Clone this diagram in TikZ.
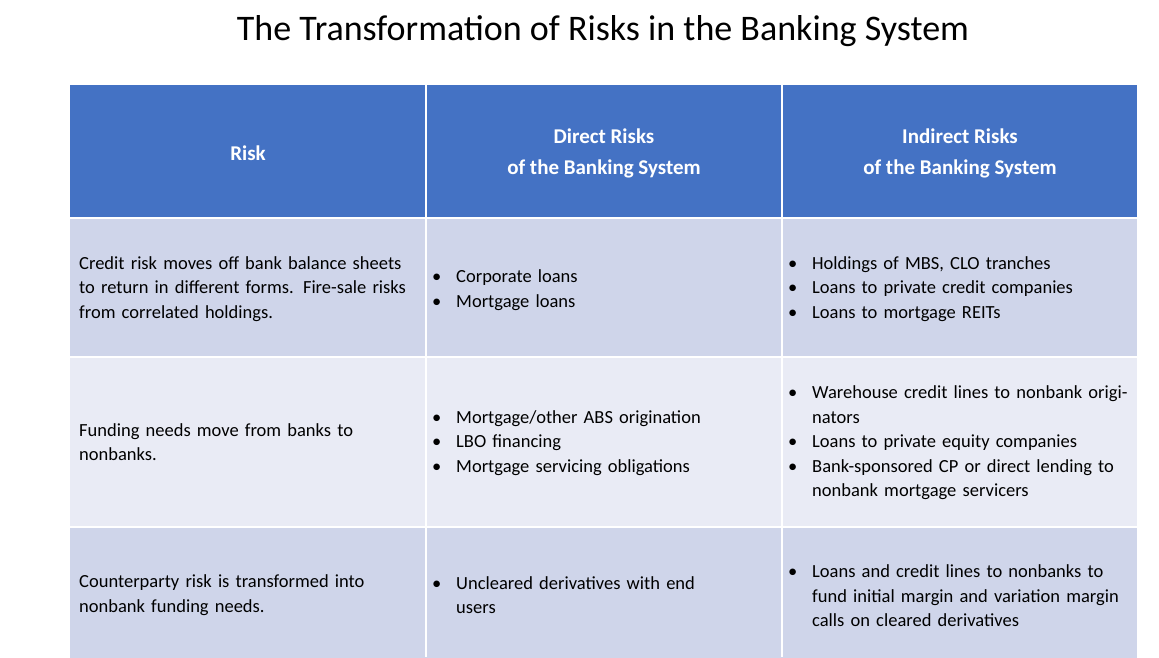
\documentclass[tikz,border=0pt]{standalone}
\usepackage{fontspec}
\setmainfont{Carlito}
\definecolor{hdr}{HTML}{4472C4}
\definecolor{rowa}{HTML}{CFD5EA}
\definecolor{rowb}{HTML}{E9EBF5}
\newcommand{\bl}[1]{{\hangindent=24pt\hangafter=1\noindent\makebox[24pt][l]{•}#1\par}}
\begin{document}
\begin{tikzpicture}[x=1pt,y=-1pt,
  cell/.style={draw=white,line width=2pt},
  txt/.style={anchor=west,font=\fontsize{18.5}{24.5}\selectfont,inner sep=0pt},
  htxt/.style={font=\fontsize{21}{31}\selectfont\bfseries,text=white,align=center}]
\useasboundingbox (0,0) rectangle (1159,657);
\node (title) at (603,31) {\fontsize{36}{40}\selectfont The Transformation of Risks in the Banking System};
\foreach \a/\b/\c in {85/218/hdr,218/357/rowa,357/527/rowb,527/660/rowa}{
  \fill[\c] (70,\a) rectangle (1137,\b);}
\foreach \x in {426,782}{\draw[white,line width=2pt] (\x,85) -- (\x,657);}
\foreach \y in {218,357,527}{\draw[white,line width=2pt] (70,\y) -- (1137,\y);}
\node[htxt] (h1) at (248,153) {Risk};
\node[htxt] (h2) at (604,153) {Direct Risks\\of the Banking System};
\node[htxt] (h3) at (960,153) {Indirect Risks\\of the Banking System};
% row 1
\node[txt,text width=340pt] (r1a) at (79,289) {\raggedright Credit risk moves off bank balance sheets to return in different forms. Fire-sale risks from correlated holdings.\par};
\node[txt,text width=330pt] (r1b) at (432,290) {\bl{Corporate loans}\bl{Mortgage loans}};
\node[txt,text width=340pt] (r1c) at (788,289) {\bl{Holdings of MBS, CLO tranches}\bl{Loans to private credit companies}\bl{Loans to mortgage REITs}};
% row 2
\node[txt,text width=340pt] (r2a) at (79,442) {\raggedright Funding needs move from banks to nonbanks.\par};
\node[txt,text width=330pt] (r2b) at (432,443) {\bl{Mortgage/other ABS origination}\bl{LBO financing}\bl{Mortgage servicing obligations}};
\node[txt,text width=340pt] (r2c) at (788,443) {\bl{Warehouse credit lines to nonbank originators}\bl{Loans to private equity companies}\bl{Bank-sponsored CP or direct lending to nonbank mortgage servicers}};
% row 3
\node[txt,text width=340pt] (r3a) at (79,595) {\raggedright Counterparty risk is transformed into nonbank funding needs.\par};
\node[txt,text width=300pt] (r3b) at (432,595) {\bl{Uncleared derivatives with end users}};
\node[txt,text width=340pt] (r3c) at (788,596) {\bl{Loans and credit lines to nonbanks to fund initial margin and variation margin calls on cleared derivatives}};
\end{tikzpicture}
\end{document}
